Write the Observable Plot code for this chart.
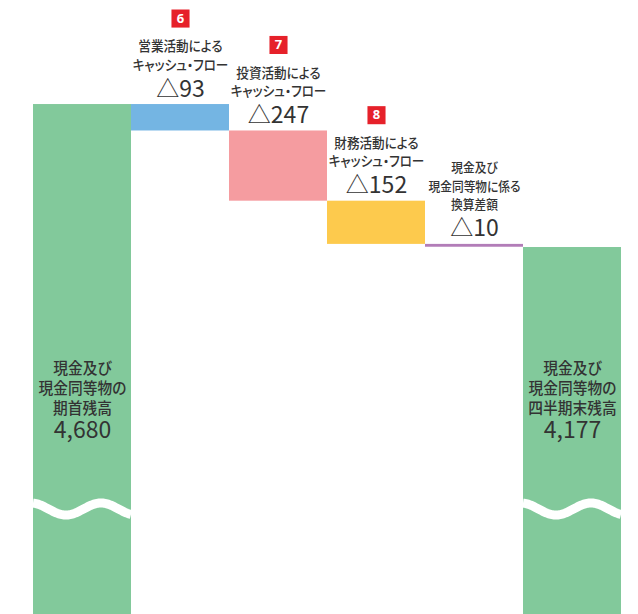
<!DOCTYPE html>
<html><head><meta charset="utf-8">
<script src="https://cdn.jsdelivr.net/npm/d3@7"></script>
<script src="https://cdn.jsdelivr.net/npm/@observablehq/plot@0.6"></script>
<style>
body{margin:0;background:#fff}
svg text{font-feature-settings:"palt" 1;}
</style>
</head><body><div id="chart"></div>
<script>
const categories = ["期首残高","営業CF","投資CF","財務CF","換算差額","四半期末残高"];
const values = [4680, -93, -247, -152, -10, 4177];
const kinds = ["total","delta","delta","delta","delta","total"];
const names = [
  "現金及び\n現金同等物の\n期首残高",
  "営業活動による\nキャッシュ・フロー",
  "投資活動による\nキャッシュ・フロー",
  "財務活動による\nキャッシュ・フロー",
  "現金及び\n現金同等物に係る\n換算差額",
  "現金及び\n現金同等物の\n四半期末残高"
];
const badges = ["", "6", "7", "8", "", ""];
const colors = ["#82c99b", "#74b5e3", "#f59ca0", "#fdca4d", "#b27db8", "#82c99b"];
const axisMin = 2886, axisMax = 5046;

let run = 0;
const rows = categories.map((c, i) => {
  let y1, y2;
  if (kinds[i] === "total") { y1 = axisMin; y2 = values[i]; run = values[i]; }
  else { y1 = run; y2 = run + values[i]; run = y2; }
  return {
    cat: c, value: values[i], kind: kinds[i], y1, y2, top: Math.max(y1, y2),
    name: names[i], badge: badges[i], color: colors[i],
    valueLabel: (values[i] < 0 ? "△" : "") + d3.format(",")(Math.abs(values[i]))
  };
});
const totals = rows.filter(d => d.kind === "total");
const badged = rows.filter(d => d.kind === "delta" && d.badge);
const plain = rows.filter(d => d.kind === "delta" && !d.badge);
const deltas = rows.filter(d => d.kind === "delta");

// axis-break symbol drawn across the two total bars
function wave(index, scales, vals, dims) {
  const x = scales.x;
  const bw = x.bandwidth ? x.bandwidth() : 98;
  const yc = dims.height - dims.marginBottom - 105;
  const g = d3.create("svg:g");
  totals.forEach(d => {
    const x0 = x(d.cat);
    const pts = d3.range(0, Math.ceil(bw) + 1).map(t => {
      const tt = Math.min(t, bw);
      return [x0 + tt, yc + 6 * Math.sin(2 * Math.PI * tt / 70 - 1.391)];
    });
    g.append("path").attr("d", d3.line()(pts)).attr("fill", "none")
      .attr("stroke", "white").attr("stroke-width", 9);
  });
  return g.node();
}

const chart = Plot.plot({
  width: 638, height: 614,
  marginTop: 0, marginBottom: 0, marginLeft: 32, marginRight: 17,
  x: {type: "band", domain: categories, padding: 0, axis: null},
  y: {domain: [axisMin, axisMax], axis: null},
  style: {fontFamily: "'Noto Sans CJK JP', sans-serif", color: "#333", background: "white"},
  marks: [
    Plot.barY(rows, {x: "cat", y1: "y1", y2: "y2", fill: d => d.color}),
    wave,
    Plot.dot(badged, {x: "cat", y: "top", dy: -86, symbol: "square", r: 10.2, fill: "#e6212a"}),
    Plot.text(badged, {x: "cat", y: "top", dy: -86, text: "badge", fill: "white", fontWeight: "bold", fontSize: 13, fontFamily: "'Noto Sans', sans-serif"}),
    Plot.text(badged, {x: "cat", y: "top", dy: -35, text: "name", lineAnchor: "bottom", lineHeight: 1.29, fontSize: 14, fontWeight: 500, fill: "#333"}),
    Plot.text(plain, {x: "cat", y: "top", dy: -35, text: "name", lineAnchor: "bottom", lineHeight: 1.42, fontSize: 13, fontWeight: 500, fill: "#333"}),
    Plot.text(deltas, {x: "cat", y: "top", dy: -8, text: "valueLabel", lineAnchor: "bottom", fontSize: 23, fill: "#333"}),
    Plot.text(totals, {x: "cat", frameAnchor: "top", dy: 413, text: "name", lineAnchor: "bottom", lineHeight: 1.29, fontSize: 15.5, fontWeight: 500, fill: "#333"}),
    Plot.text(totals, {x: "cat", frameAnchor: "top", dy: 437, text: "valueLabel", lineAnchor: "bottom", fontSize: 23, fill: "#333"})
  ]
});
document.getElementById("chart").appendChild(chart);

// horizontally condense the Japanese labels
const factors = {"14": 0.9, "13": 0.9, "15.5": 0.95};
chart.querySelectorAll("text").forEach(t => {
  if (!/[\u3040-\u9fff]/.test(t.textContent)) return;
  const fs = String(parseFloat(t.parentNode.getAttribute("font-size")));
  const f = factors[fs] || 0.9;
  const tr = t.getAttribute("transform") || "";
  t.setAttribute("transform", tr + ` scale(${f},1)`);
});
</script></body></html>
